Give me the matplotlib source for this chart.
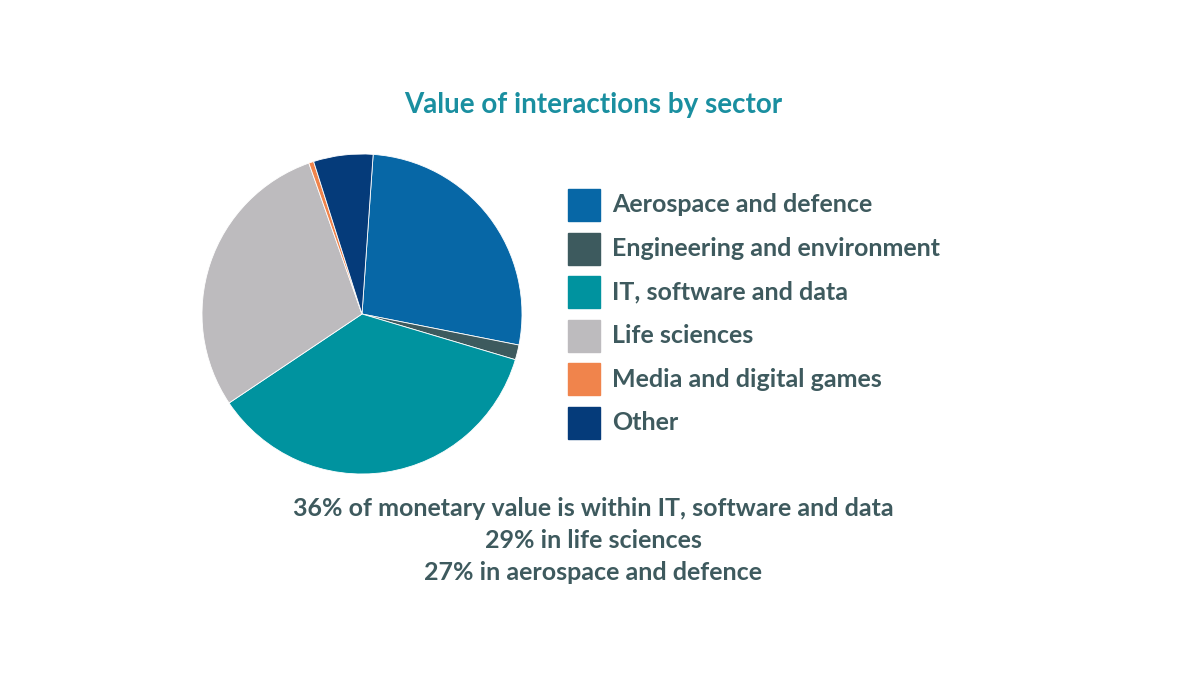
import matplotlib
matplotlib.use("Agg")
import matplotlib.pyplot as plt
from matplotlib.patches import Rectangle

sectors = ["Aerospace and defence", "Engineering and environment", "IT, software and data",
           "Life sciences", "Media and digital games", "Other"]
values = [27, 1.5, 36, 29, 0.5, 6]
colors = ["#0767a6", "#3d5a5e", "#00939f", "#bdbbbe", "#f0844c", "#053b7a"]
notes = ["36% of monetary value is within IT, software and data",
         "29% in life sciences", "27% in aerospace and defence"]

plt.rcParams['font.family'] = ['Lato', 'DejaVu Sans']
fig = plt.figure(figsize=(12, 6.75), dpi=100)
W, H = 1200, 675
cx, cy, r = 362, 314, 160
ax = fig.add_axes([(cx - r) / W, 1 - (cy + r) / H, 2 * r / W, 2 * r / H])
ax.pie(values, colors=colors, startangle=86, counterclock=False,
       wedgeprops=dict(linewidth=0.6, edgecolor="white"))
ax.set_xlim(-1, 1)
ax.set_ylim(-1, 1)
ax.set_aspect("equal")
ax.axis("off")

txt = "#3e5a5e"
fig.text(593 / W, 1 - 105 / H, "Value of interactions by sector", ha="center", va="center",
         fontsize=20, fontweight="bold", color="#1a8fa0")
for i, (s, c) in enumerate(zip(sectors, colors)):
    y = 205 + i * 43.6
    fig.patches.append(Rectangle((568 / W, 1 - (y + 16) / H), 32 / W, 32 / H,
                                 transform=fig.transFigure, color=c))
    fig.text(612 / W, 1 - y / H, s, ha="left", va="center", fontsize=18,
             fontweight="bold", color=txt)
for i, n in enumerate(notes):
    fig.text(593 / W, 1 - (508 + i * 32.5) / H, n, ha="center", va="center",
             fontsize=18, fontweight="bold", color=txt)
fig.savefig("out.png", dpi=100, facecolor="white")
